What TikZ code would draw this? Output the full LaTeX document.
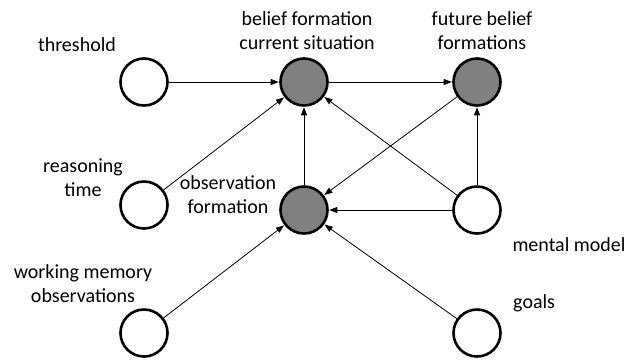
\documentclass[tikz,border=0pt]{standalone}
\usepackage{fontspec}
\setmainfont{Carlito}
\usetikzlibrary{arrows.meta}
\begin{document}
\begin{tikzpicture}[x=1pt,y=-1pt,
  var/.style={circle,draw=black,line width=2.6pt,minimum size=47pt,inner sep=0pt,fill=white},
  hid/.style={var,fill=gray50},
  lab/.style={font=\fontsize{20}{24}\selectfont,align=center,inner sep=0pt},
  edge/.style={line width=0.8pt,-{Triangle[length=8pt,width=6pt]},shorten >=0.5pt}]
\definecolor{gray50}{RGB}{128,128,128}
\useasboundingbox (0,0) rectangle (627,360);
\node[var] (thr) at (144,82) {};
\node[hid] (bel) at (304,82) {};
\node[hid] (fut) at (477,82) {};
\node[var] (rea) at (144,205) {};
\node[hid] (obs) at (304,210) {};
\node[var] (men) at (477,210) {};
\node[var] (wm) at (144,333) {};
\node[var] (goa) at (477,333) {};
\node[lab] (tthr) at (77,45) {threshold};
\node[lab] (tbel) at (307,31) {belief formation\\current situation};
\node[lab] (tfut) at (482,31) {future belief\\formations};
\node[lab] (trea) at (83,178) {reasoning\\time};
\node[lab] (tobs) at (228,195) {observation\\formation};
\node[lab] (twm) at (83,284) {working memory\\observations};
\node[lab] (tmen) at (569,245) {mental model};
\node[lab,anchor=west] (tgoa) at (513,303) {goals};
\draw[edge] (thr) -- (bel);
\draw[edge] (rea) -- (bel);
\draw[edge] (bel) -- (fut);
\draw[edge] (obs) -- (bel);
\draw[edge] (men) -- (bel);
\draw[edge] (fut) -- (obs);
\draw[edge] (men) -- (fut);
\draw[edge] (men) -- (obs);
\draw[edge] (wm) -- (obs);
\draw[edge] (goa) -- (obs);
\end{tikzpicture}
\end{document}
